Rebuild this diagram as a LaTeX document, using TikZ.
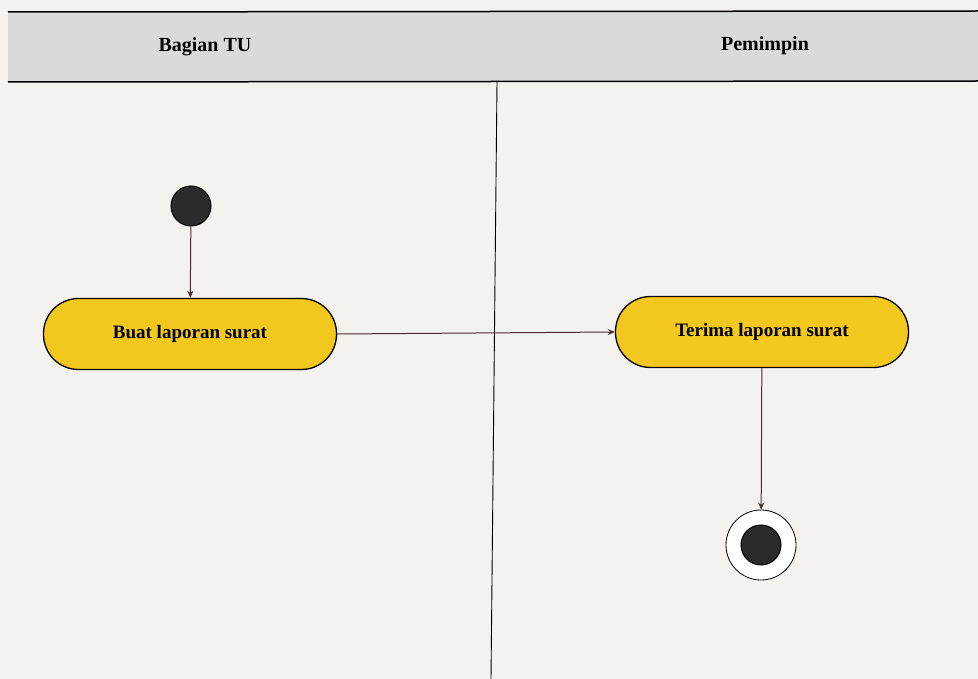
\documentclass[tikz,border=0pt]{standalone}
\usepackage{fontspec}
\setmainfont{Liberation Serif}
\usetikzlibrary{arrows.meta}
\definecolor{paper}{HTML}{F3F2EF}
\definecolor{band}{HTML}{DADAD8}
\definecolor{actfill}{HTML}{F2C81E}
\definecolor{flow}{HTML}{4A2C2C}
\definecolor{dot}{HTML}{2B2B2B}
\tikzset{
  lanehead/.style={font=\bfseries\fontsize{20}{24}\selectfont},
  activity/.style={draw=black, line width=1.3pt, fill=actfill, rounded corners=35pt,
    minimum width=293pt, minimum height=71pt, inner sep=0pt,
    font=\bfseries\fontsize{19}{22}\selectfont},
  startnode/.style={circle, fill=dot, draw=black, line width=1pt, minimum size=40pt, inner sep=0pt},
  endring/.style={circle, fill=white, draw=black, line width=0.8pt, minimum size=70pt, inner sep=0pt},
  enddot/.style={circle, fill=dot, draw=black, line width=1pt, minimum size=40pt, inner sep=0pt},
  flowline/.style={draw=flow, line width=1pt, -{Stealth[length=7pt,width=6pt]}},
}
\begin{document}
\begin{tikzpicture}[x=1pt,y=-1pt]
  \useasboundingbox (0,0) rectangle (978,679);
  % page and swimlane header
  \fill[paper] (0,0) rectangle (978,679);
  \fill[band] (8,12) rectangle (978,82);
  \draw[line width=1.5pt] (8,12) -- (978,11);
  \draw[line width=1.5pt] (8,82) -- (978,81);
  \node[lanehead] (laneA) at (205,47) {Bagian TU};
  \node[lanehead] (laneB) at (765,46) {Pemimpin};
  % lane divider
  \draw[line width=0.9pt] (497,82) -- (491,679);
  % activity flow
  \node[startnode] (start) at (191,206) {};
  \node[activity] (buat) at (190,334) {Buat laporan surat};
  \node[activity] (terima) at (762,332) {Terima laporan surat};
  \node[endring] (endo) at (761,545) {};
  \node[enddot] (endi) at (761,545) {};
  \draw[flowline] (start) -- (buat);
  \draw[flowline] (buat.east) -- (terima.west);
  \draw[flowline] (terima) -- (endo);
\end{tikzpicture}
\end{document}
